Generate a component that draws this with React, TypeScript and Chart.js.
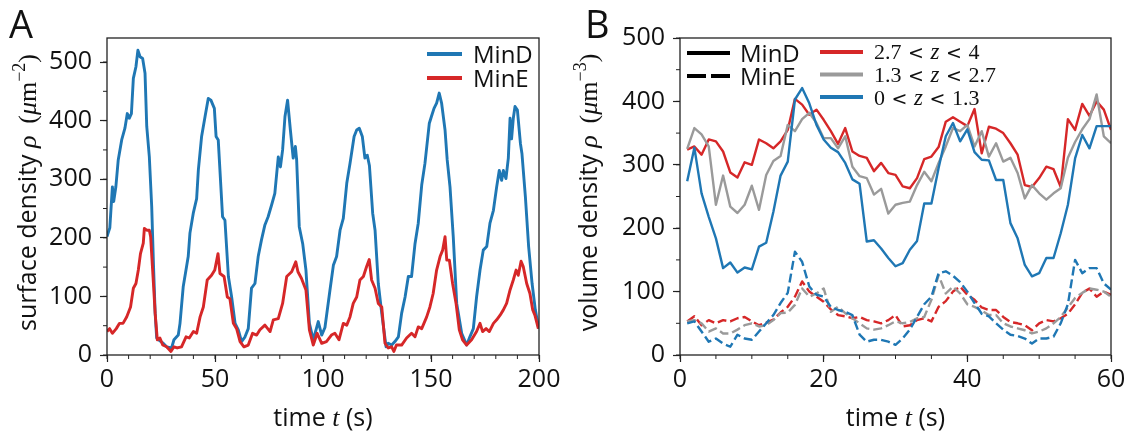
import { useEffect, useRef } from 'react';
import { Chart, registerables } from 'chart.js';

Chart.register(...registerables);

// ---------- Panel A: membrane surface density over time ----------
const tMinD = [
  0, 1.3, 2.5, 3.1, 4.1, 5.2, 6.8, 8.3, 9.4, 10.3, 11.3, 12.2, 13.4, 14.3, 15.3, 16.5, 17.6, 18.4, 19.6, 20.7,
  21.5, 22.3, 23, 24.5, 26, 27.6, 29.9, 31, 33, 33.8, 35.3, 36.8, 37.6, 38.4, 40, 41.5, 42.3, 43.8, 45.4, 46.9,
  48.1, 49.7, 50.5, 51.5, 53.5, 54.6, 56.2, 57.7, 59.3, 60.8, 62.3, 63.9, 65.4, 66.9, 68.5, 70, 71.5, 73.1, 74.6, 76.2,
  77.7, 79.3, 80.3, 81.3, 82.4, 83.6, 84.9, 86.2, 87.2, 87.8, 89, 90.6, 92.1, 93.7, 95.5, 97.8, 99.4, 100.9, 103.2, 104.8,
  106.3, 107.9, 109.4, 111, 112.5, 114.4, 115.6, 116.8, 118.2, 119.4, 120.5, 121.5, 123, 124.1, 125.6, 127.2, 129.2, 130.2, 131.8, 133.3,
  134.9, 136.4, 138, 139.5, 141, 142.6, 144.1, 145.7, 147.2, 149.2, 150.2, 151.4, 152.6, 153.8, 154.9, 156.5, 157.5, 158.8, 160.3, 161.9,
  164.2, 166.5, 168, 169.6, 171.1, 172.7, 174.2, 175.8, 177.3, 178.9, 180.4, 181.6, 182.7, 183.5, 184.7, 185.8, 186.6, 187.3, 188.1, 188.9,
  190, 191.4, 192.1, 193.7, 195.2, 196.8, 198.3, 199.9,
];
const rhoMinD = [
  202, 217, 287, 262, 287, 333, 367, 387, 412, 404, 412, 472, 492, 520, 509, 506, 481, 390, 338, 253,
  156, 71, 29, 24, 20, 14, 12, 26, 34, 54, 117, 150, 168, 208, 243, 267, 316, 373, 407, 438,
  435, 421, 373, 367, 236, 230, 134, 99, 54, 43, 23, 31, 45, 114, 122, 168, 196, 222, 236, 256,
  276, 338, 321, 350, 407, 435, 384, 336, 356, 333, 219, 190, 145, 54, 26, 57, 34, 47, 110, 153,
  168, 213, 233, 293, 327, 373, 384, 387, 373, 336, 341, 323, 242, 213, 122, 71, 14, 20, 17, 23,
  31, 71, 99, 134, 134, 190, 225, 290, 327, 395, 407, 421, 430, 447, 430, 384, 333, 287, 202, 88,
  37, 17, 31, 45, 99, 145, 179, 185, 225, 247, 287, 315, 298, 315, 301, 336, 404, 369, 404, 424,
  418, 361, 344, 270, 185, 122, 77, 45,
];
const tMinE = [
  0, 1.2, 2.5, 4.3, 5.8, 7.4, 9.1, 10.9, 12.2, 13.4, 14.5, 15.5, 16.8, 17.3, 18.4, 19.6, 20.2, 21.5, 22.3, 23.3,
  24.5, 25.8, 27.6, 29.6, 31, 32.5, 34.5, 36.6, 38.1, 40, 41.5, 43.1, 44.6, 46.4, 48.4, 49.9, 51.4, 52.3, 54.2, 55.7,
  56.9, 58.5, 60, 61.6, 63.4, 65.4, 67.4, 69.3, 70.8, 73.1, 75.5, 77, 79.3, 81.3, 83.2, 85.5, 87.4, 88.4, 90, 92.1,
  93.7, 95.5, 97.3, 99.4, 101.6, 103.9, 105.5, 107.4, 109.4, 111, 112.5, 114, 115.6, 117.1, 118.7, 120.2, 121.4, 122.5, 124.1, 125.6,
  127.2, 128.7, 130.2, 131.8, 132.8, 134, 136.4, 138.7, 141, 142.6, 144.1, 145.7, 148, 149.5, 151, 152.6, 154.2, 155.4, 156.5, 157.3,
  158.5, 160, 161.6, 163.1, 164.6, 166.5, 168.8, 171.1, 172.7, 173.9, 175.5, 177, 178.9, 180.4, 182, 183.5, 185, 186.6, 188.1, 189.4,
  190.4, 191.7, 192.7, 194.3, 195.8, 197.1, 198.1, 199.7,
];
const rhoMinE = [
  40, 45, 37, 45, 54, 54, 65, 82, 114, 122, 145, 173, 191, 216, 213, 213, 202, 122, 71, 26,
  29, 17, 14, 6, 14, 12, 14, 31, 29, 40, 37, 65, 82, 128, 136, 145, 173, 139, 134, 99,
  96, 54, 45, 23, 14, 17, 37, 34, 43, 51, 40, 60, 62, 88, 134, 142, 159, 142, 131, 111,
  43, 17, 37, 20, 23, 34, 37, 26, 54, 51, 65, 88, 99, 128, 134, 151, 163, 128, 114, 88,
  82, 20, 12, 14, 6, 17, 17, 29, 37, 31, 48, 45, 65, 82, 105, 145, 168, 179, 202, 162,
  162, 122, 88, 43, 26, 17, 26, 40, 54, 40, 45, 40, 54, 60, 68, 77, 88, 111, 128, 145,
  136, 160, 151, 122, 105, 77, 68, 45,
];

// ---------- Panel B: cytosolic volume density in three height slabs ----------
const tVol = [
  1, 2, 3, 4, 5, 6, 7, 8, 9, 10, 11, 12, 13, 14, 15, 16, 17, 18, 19, 20,
  21, 22, 23, 24, 25, 26, 27, 28, 29, 30, 31, 32, 33, 34, 35, 36, 37, 38, 39, 40,
  41, 42, 43, 44, 45, 46, 47, 48, 49, 50, 51, 52, 53, 54, 55, 56, 57, 58, 59, 60,
];
// MinD, solid lines
const minDHigh = [
  324, 329, 316, 340, 337, 321, 288, 280, 304, 300, 340, 334, 326, 337, 355, 404, 395, 379, 387, 371,
  353, 333, 358, 321, 314, 311, 290, 303, 287, 284, 266, 263, 279, 309, 313, 328, 368, 375, 368, 361,
  388, 318, 360, 357, 350, 334, 316, 268, 265, 279, 297, 293, 265, 372, 355, 396, 377, 400, 387, 355,
];
const minDMid = [
  325, 358, 348, 329, 237, 283, 234, 224, 237, 267, 229, 284, 306, 314, 363, 353, 372, 382, 366, 342,
  342, 326, 345, 297, 282, 279, 253, 262, 223, 237, 240, 242, 268, 289, 274, 303, 329, 358, 353, 363,
  329, 353, 313, 334, 305, 311, 287, 247, 268, 255, 245, 255, 263, 311, 336, 356, 372, 411, 345, 334,
];
const minDLow = [
  274, 327, 255, 218, 184, 137, 146, 130, 138, 135, 171, 177, 226, 283, 305, 403, 421, 397, 363, 340,
  327, 320, 303, 277, 270, 179, 181, 168, 153, 140, 145, 166, 180, 239, 239, 295, 345, 366, 337, 356,
  320, 308, 307, 276, 276, 208, 184, 142, 124, 129, 153, 153, 192, 237, 310, 347, 326, 361, 361, 361,
];
// MinE, dashed lines
const minEHigh = [
  53, 61, 47, 55, 50, 55, 53, 58, 60, 53, 47, 51, 56, 67, 76, 92, 116, 100, 92, 84,
  72, 63, 61, 58, 60, 55, 53, 50, 55, 63, 45, 47, 55, 58, 53, 76, 85, 100, 108, 95,
  87, 75, 71, 71, 60, 52, 50, 47, 39, 50, 55, 53, 58, 65, 80, 98, 105, 92, 100, 95,
];
const minEMid = [
  53, 55, 50, 37, 42, 34, 34, 40, 47, 50, 45, 47, 55, 66, 67, 79, 105, 92, 97, 105,
  68, 76, 66, 58, 50, 42, 40, 42, 47, 53, 50, 52, 58, 60, 87, 126, 97, 108, 97, 80,
  76, 70, 63, 63, 50, 45, 42, 39, 34, 37, 42, 50, 60, 75, 90, 98, 105, 103, 100, 92,
];
const minELow = [
  50, 53, 37, 21, 26, 18, 13, 32, 26, 24, 37, 50, 63, 82, 98, 163, 147, 108, 95, 92,
  76, 71, 68, 63, 32, 21, 24, 24, 21, 16, 26, 40, 60, 80, 92, 129, 132, 125, 115, 100,
  82, 65, 61, 50, 40, 32, 30, 26, 18, 26, 26, 29, 50, 80, 150, 129, 137, 137, 113, 103,
];

// ---------- Axis ticks ----------
const xTicksA = [0, 50, 100, 150, 200];
const yTicksA = [0, 100, 200, 300, 400, 500];
const xTicksB = [0, 20, 40, 60];
const yTicksB = [0, 100, 200, 300, 400, 500];

// ---------- Styles ----------
const BLUE = '#1f77b4';
const RED = '#d62728';
const GRAY = '#9a9a9a';
const INK = '#111111';
const AXIS = '#222222';
const SANS = '"Open Sans", "Noto Sans", "DejaVu Sans", sans-serif';
const SERIF = '"Liberation Serif", "DejaVu Serif", serif';
const SERIF_REL = '"DejaVu Serif", "Liberation Serif", serif';

type Run = { text: string; font: string; dy?: number; box?: number };

function runsWidth(ctx: CanvasRenderingContext2D, runs: Run[]) {
  let w = 0;
  for (const r of runs) {
    ctx.font = r.font;
    w += r.box ?? ctx.measureText(r.text).width;
  }
  return w;
}

function drawRuns(ctx: CanvasRenderingContext2D, runs: Run[], x: number, y: number, center: boolean) {
  let cx = center ? x - runsWidth(ctx, runs) / 2 : x;
  ctx.textAlign = 'left';
  ctx.textBaseline = 'alphabetic';
  for (const r of runs) {
    ctx.font = r.font;
    const w = ctx.measureText(r.text).width;
    const adv = r.box ?? w;
    ctx.fillText(r.text, cx + (adv - w) / 2, y + (r.dy ?? 0));
    cx += adv;
  }
}

function zRange(lo: string, hi: string): Run[] {
  const num = `22px ${SERIF}`;
  const rel = `19px ${SERIF_REL}`;
  return [
    { text: lo, font: num },
    { text: '<', font: rel, box: 29 },
    { text: 'z', font: `italic 23px ${SERIF}` },
    { text: '<', font: rel, box: 29 },
    { text: hi, font: num },
  ];
}

function densityTitle(word: string, power: string): Run[] {
  return [
    { text: word + ' density ', font: `25px ${SANS}` },
    { text: 'ρ', font: `italic 26px ${SERIF}` },
    { text: '\u2009 (', font: `26px ${SERIF}` },
    { text: 'μ', font: `italic 26px ${SERIF}` },
    { text: 'm', font: `26px ${SERIF}` },
    { text: '−' + power, font: `18px ${SERIF}`, dy: -11 },
    { text: ')', font: `26px ${SERIF}` },
  ];
}

const timeTitle: Run[] = [
  { text: 'time ', font: `25px ${SANS}` },
  { text: 't', font: `italic 26px ${SERIF}` },
  { text: ' (s)', font: `25px ${SANS}` },
];

type Decor = {
  minorX: number;
  minorY: number;
  letter: string;
  letterX: number;
  yTitle: Run[];
  yTitleX: number;
  legend: (ctx: CanvasRenderingContext2D) => void;
};

function decorPlugin(d: Decor) {
  return {
    id: 'panelDecor',
    afterDraw(chart: any) {
      const { ctx, chartArea: a, scales } = chart;
      const xs = scales.x;
      const ys = scales.y;
      ctx.save();
      // minor ticks
      ctx.strokeStyle = AXIS;
      ctx.lineWidth = 1;
      ctx.beginPath();
      for (let v = xs.min; v <= xs.max + 1e-9; v += d.minorX) {
        const px = xs.getPixelForValue(v);
        ctx.moveTo(px, a.bottom);
        ctx.lineTo(px, a.bottom + 4);
      }
      for (let v = ys.min; v <= ys.max + 1e-9; v += d.minorY) {
        const py = ys.getPixelForValue(v);
        ctx.moveTo(a.left, py);
        ctx.lineTo(a.left - 4, py);
      }
      ctx.stroke();
      // frame
      ctx.lineWidth = 1.3;
      ctx.strokeRect(a.left, a.top, a.right - a.left, a.bottom - a.top);
      // titles
      ctx.fillStyle = INK;
      drawRuns(ctx, timeTitle, (a.left + a.right) / 2, 426, true);
      ctx.save();
      ctx.translate(d.yTitleX, (a.top + a.bottom) / 2 - 4);
      ctx.rotate(-Math.PI / 2);
      drawRuns(ctx, d.yTitle, 0, 0, true);
      ctx.restore();
      // panel letter
      ctx.font = `38px ${SANS}`;
      ctx.textAlign = 'left';
      ctx.textBaseline = 'alphabetic';
      ctx.fillText(d.letter, d.letterX, 38);
      d.legend(ctx);
      ctx.restore();
    },
  };
}

function legendLine(ctx: CanvasRenderingContext2D, x0: number, x1: number, y: number, color: string, dashed = false) {
  ctx.save();
  ctx.strokeStyle = color;
  ctx.lineWidth = 4;
  ctx.lineCap = 'butt';
  if (dashed) ctx.setLineDash([19, 5]);
  ctx.beginPath();
  ctx.moveTo(x0, y);
  ctx.lineTo(x1, y);
  ctx.stroke();
  ctx.restore();
}

function legendA(ctx: CanvasRenderingContext2D) {
  legendLine(ctx, 427, 462, 54, BLUE);
  legendLine(ctx, 427, 462, 78, RED);
  ctx.fillStyle = INK;
  ctx.font = `24px ${SANS}`;
  ctx.textAlign = 'left';
  ctx.textBaseline = 'alphabetic';
  ctx.fillText('MinD', 473, 63);
  ctx.fillText('MinE', 473, 87);
}

function legendB(ctx: CanvasRenderingContext2D) {
  legendLine(ctx, 121, 164, 53, '#000000');
  legendLine(ctx, 121, 164, 76, '#000000', true);
  ctx.fillStyle = INK;
  ctx.font = `24px ${SANS}`;
  ctx.textAlign = 'left';
  ctx.textBaseline = 'alphabetic';
  ctx.fillText('MinD', 174, 62);
  ctx.fillText('MinE', 174, 85);
  legendLine(ctx, 254, 297, 52, RED);
  legendLine(ctx, 254, 297, 74.5, GRAY);
  legendLine(ctx, 254, 297, 97, BLUE);
  ctx.fillStyle = INK;
  drawRuns(ctx, zRange('2.7', '4'), 308, 59, false);
  drawRuns(ctx, zRange('1.3', '2.7'), 308, 82, false);
  drawRuns(ctx, zRange('0', '1.3'), 308, 105, false);
}

function pairs(ts: number[], vs: number[]) {
  return ts.map((t, i) => ({ x: t, y: vs[i] }));
}

function axes(xMax: number, yMax: number, xTicks: number[], yTicks: number[], yWidth: number) {
  const tickFont = { family: SANS, size: 25 };
  const grid = {
    display: true,
    drawOnChartArea: false,
    drawTicks: true,
    tickLength: 7,
    tickColor: AXIS,
    tickWidth: 1.2,
  };
  return {
    x: {
      type: 'linear',
      min: 0,
      max: xMax,
      afterBuildTicks: (s: any) => {
        s.ticks = xTicks.map((value) => ({ value }));
      },
      afterFit: (s: any) => {
        s.height = 77;
      },
      grid,
      border: { display: false },
      ticks: { font: tickFont, color: INK, padding: 3, maxRotation: 0, autoSkip: false, callback: (v: any) => String(v) },
    },
    y: {
      type: 'linear',
      min: 0,
      max: yMax,
      afterBuildTicks: (s: any) => {
        s.ticks = yTicks.map((value) => ({ value }));
      },
      afterFit: (s: any) => {
        s.width = yWidth;
      },
      grid,
      border: { display: false },
      ticks: { font: tickFont, color: INK, padding: 8, autoSkip: false, callback: (v: any) => String(v) },
    },
  };
}

function line(data: { x: number; y: number }[], color: string, width: number, dashed = false) {
  return {
    data,
    borderColor: color,
    borderWidth: width,
    borderDash: dashed ? [9, 4] : [],
    pointRadius: 0,
    tension: 0,
    fill: false,
    borderJoinStyle: 'round',
  };
}

export default function App() {
  const refA = useRef<HTMLCanvasElement>(null);
  const refB = useRef<HTMLCanvasElement>(null);

  useEffect(() => {
    const chartA = new Chart(refA.current as HTMLCanvasElement, {
      type: 'line',
      data: {
        datasets: [
          line(pairs(tMinE, rhoMinE), RED, 2.9),
          line(pairs(tMinD, rhoMinD), BLUE, 2.9),
        ],
      },
      options: {
        animation: false,
        responsive: false,
        maintainAspectRatio: false,
        parsing: false,
        layout: { padding: { left: 0, right: 27, top: 38, bottom: 0 } },
        plugins: { legend: { display: false }, tooltip: { enabled: false } },
        scales: axes(200, 541, xTicksA, yTicksA, 107),
      },
      plugins: [
        decorPlugin({
          minorX: 10,
          minorY: 50,
          letter: 'A',
          letterX: 9,
          yTitle: densityTitle('surface', '2'),
          yTitleX: 36,
          legend: legendA,
        }),
      ],
    } as any);

    const chartB = new Chart(refB.current as HTMLCanvasElement, {
      type: 'line',
      data: {
        datasets: [
          line(pairs(tVol, minELow), BLUE, 2.4, true),
          line(pairs(tVol, minDLow), BLUE, 2.4),
          line(pairs(tVol, minEMid), GRAY, 2.4, true),
          line(pairs(tVol, minDMid), GRAY, 2.4),
          line(pairs(tVol, minEHigh), RED, 2.4, true),
          line(pairs(tVol, minDHigh), RED, 2.4),
        ],
      },
      options: {
        animation: false,
        responsive: false,
        maintainAspectRatio: false,
        parsing: false,
        layout: { padding: { left: 0, right: 22, top: 38, bottom: 0 } },
        plugins: { legend: { display: false }, tooltip: { enabled: false } },
        scales: axes(60, 500, xTicksB, yTicksB, 114),
      },
      plugins: [
        decorPlugin({
          minorX: 5,
          minorY: 50,
          letter: 'B',
          letterX: 19,
          yTitle: densityTitle('volume', '3'),
          yTitleX: 31,
          legend: legendB,
        }),
      ],
    } as any);

    return () => {
      chartA.destroy();
      chartB.destroy();
    };
  }, []);

  return (
    <div style={{ position: 'absolute', left: 0, top: 0, width: 1133, height: 432, background: '#ffffff' }}>
      <canvas ref={refA} width={566} height={432} style={{ position: 'absolute', left: 0, top: 0, width: 566, height: 432 }} />
      <canvas ref={refB} width={567} height={432} style={{ position: 'absolute', left: 566, top: 0, width: 567, height: 432 }} />
    </div>
  );
}
